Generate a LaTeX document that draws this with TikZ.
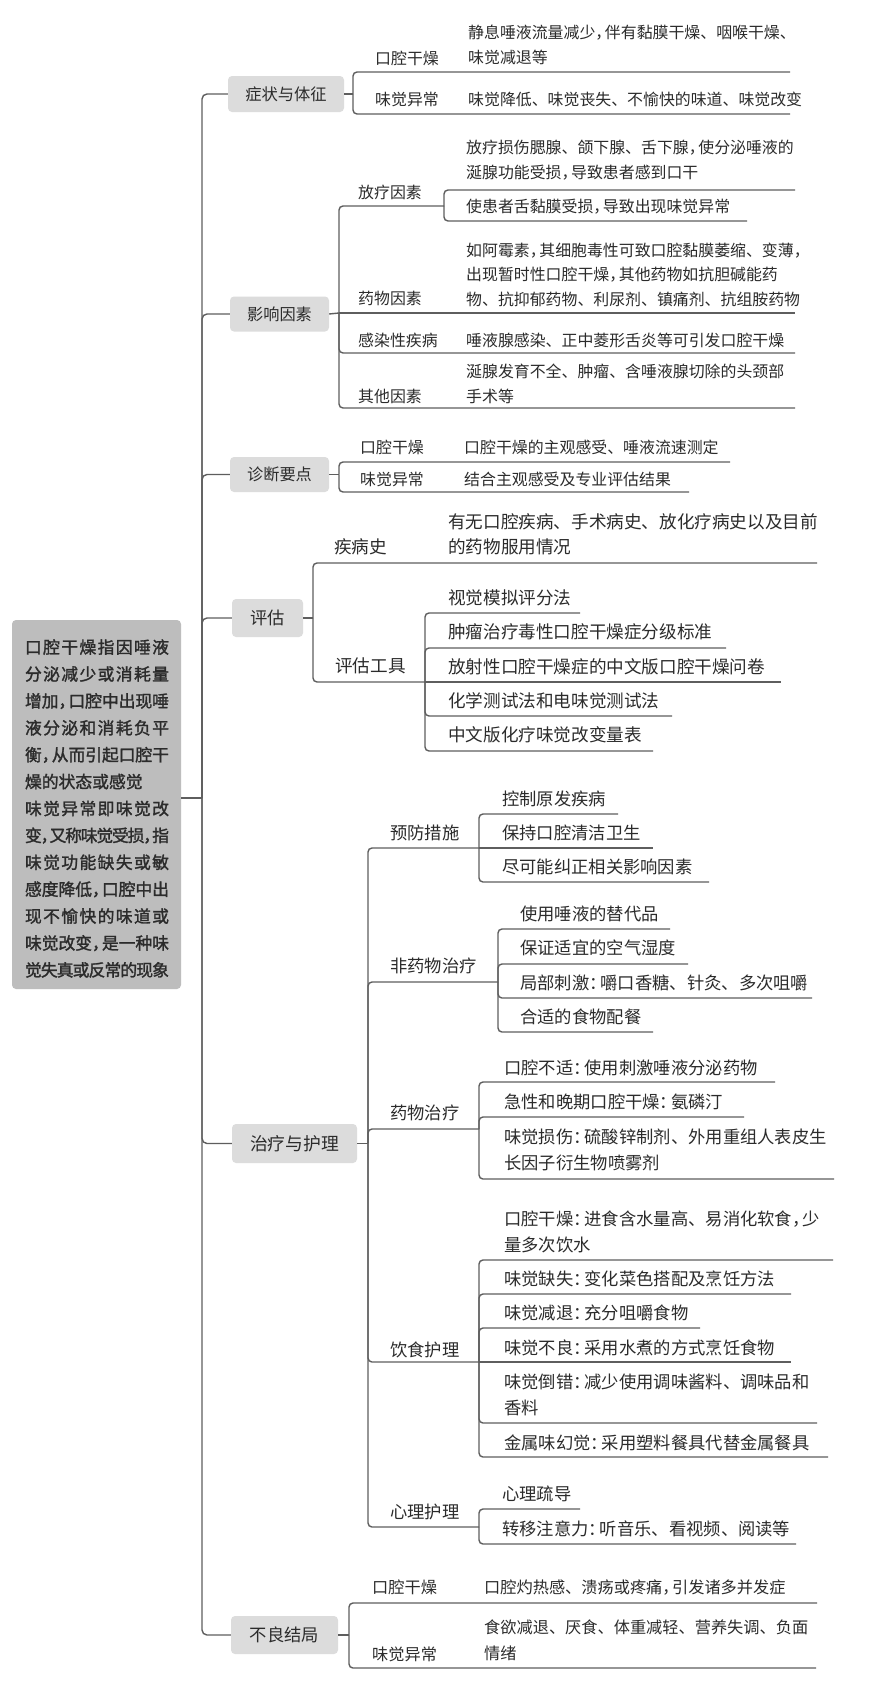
\documentclass[tikz,border=0pt]{standalone}
\usepackage{fontspec}
\setmainfont{Noto Sans CJK SC}
\newfontfamily\rootfont[FakeBold=1.6]{Noto Sans CJK SC}
\definecolor{txt}{HTML}{2B2B2B}
\definecolor{lnc}{HTML}{5E5E5E}
\definecolor{topfill}{HTML}{DCDCDC}
\definecolor{rootfill}{HTML}{BDBDBD}
\newcommand{\cm}{，\kern-0.4em}
\newcommand{\cn}{：\kern-0.35em}
\makeatletter
\def\jl#1{\hbox to 144pt{\jl@a#1\relax}}
\def\jl@a#1{#1\jl@b}
\def\jl@b#1{\ifx#1\relax\else\hskip 0pt plus 1fil minus 2.5pt #1\expandafter\jl@b\fi}
\makeatother
\tikzset{
  ln/.style={draw=lnc, line width=1.4pt},
  br/.style={ln, rounded corners=4pt},
  trk/.style={ln, rounded corners=5pt},
  topbox/.style={fill=topfill, rounded corners=4pt, inner sep=0pt, text=txt, align=center},
  fa/.style={anchor=west, inner sep=0pt, text=txt, align=left, font=\fontsize{15.9}{25}\selectfont},
  fb/.style={anchor=west, inner sep=0pt, text=txt, align=left, font=\fontsize{17.6}{25.5}\selectfont},
  fc/.style={anchor=west, inner sep=0pt, text=txt, align=left, font=\fontsize{17.3}{26}\selectfont},
}
\begin{document}
\begin{tikzpicture}[x=1pt, y=-1pt]
\fill[white] (0,0) rectangle (876,1697);
\useasboundingbox (0,0) rectangle (876,1697);

% root
\node[fill=rootfill, rounded corners=4pt, minimum width=169pt, minimum height=369pt, inner sep=0pt] (root) at (96.5,804.5) {};
\node[inner sep=0pt, text=txt, align=left, font=\rootfont\fontsize{16.8}{26.9}\selectfont] (roottext) at (97,808.5)
{\jl{口腔干燥指因唾液}\\
\jl{分泌减少或消耗量}\\
\jl{增加\cm 口腔中出现唾}\\
\jl{液分泌和消耗负平}\\
\jl{衡\cm 从而引起口腔干}\\
燥的状态或感觉\\
\jl{味觉异常即味觉改}\\
\jl{变\cm 又称味觉受损\cm 指}\\
\jl{味觉功能缺失或敏}\\
\jl{感度降低\cm 口腔中出}\\
\jl{现不愉快的味道或}\\
\jl{味觉改变\cm 是一种味}\\
\jl{觉失真或反常的现象}};

% main topics
\node[topbox, minimum width=116pt, minimum height=36pt, font=\fontsize{16.3}{20}\selectfont] (t1) at (286,94) {症状与体征};
\node[topbox, minimum width=99pt, minimum height=35pt, font=\fontsize{16.2}{20}\selectfont] (t2) at (279.5,314) {影响因素};
\node[topbox, minimum width=99pt, minimum height=35pt, font=\fontsize{16.2}{20}\selectfont] (t3) at (279.5,474.5) {诊断要点};
\node[topbox, minimum width=71pt, minimum height=38pt, font=\fontsize{17.3}{20}\selectfont] (t4) at (267.5,618) {评估};
\node[topbox, minimum width=125pt, minimum height=39pt, font=\fontsize{17.8}{20}\selectfont] (t5) at (294.5,1143.5) {治疗与护理};
\node[topbox, minimum width=107pt, minimum height=38pt, font=\fontsize{17.3}{20}\selectfont] (t6) at (284.5,1635) {不良结局};

% trunk
\coordinate (J) at (202,798);
\draw[ln] (root.east |- J) -- (J);
\foreach \t in {t1,t2,t3,t4,t5,t6} { \draw[trk] (J) |- (\t.west); }

% ---------- section 1
\coordinate (b1) at (353,94);
\draw[ln] (t1.east) -- (b1);
\node[fa] (s1l1) at (375,58) {口腔干燥};
\node[fa] (s1d1) at (468,45) {静息唾液流量减少\cm 伴有黏膜干燥、咽喉干燥、\\味觉减退等};
\coordinate (s1e1) at (790,72);
\draw[br] (b1) |- (s1e1);
\node[fa] (s1l2) at (375,99) {味觉异常};
\node[fa] (s1d2) at (468,99) {味觉降低、味觉丧失、不愉快的味道、味觉改变};
\coordinate (s1e2) at (790,114);
\draw[br] (b1) |- (s1e2);

% ---------- section 2
\coordinate (b2) at (339,313);
\draw[ln] (t2.east) -- (b2);
\node[fa] (f1l) at (358,192) {放疗因素};
\coordinate (f1) at (444,206);
\draw[br] (b2) |- (f1);
\node[fa] (f1d) at (466,160.5) {放疗损伤腮腺、颌下腺、舌下腺\cm 使分泌唾液的\\涎腺功能受损\cm 导致患者感到口干};
\coordinate (f1a) at (795,190);
\draw[br] (f1) |- (f1a);
\node[fa] (f1d2) at (466,207) {使患者舌黏膜受损\cm 导致出现味觉异常};
\coordinate (f1b) at (747,221);
\draw[br] (f1) |- (f1b);
\node[fa] (f2l) at (358,298) {药物因素};
\node[fa, font=\fontsize{15.9}{24.5}\selectfont] (f2d) at (466,274.5) {如阿霉素\cm 其细胞毒性可致口腔黏膜萎缩、变薄\cm\\出现暂时性口腔干燥\cm 其他药物如抗胆碱能药\\物、抗抑郁药物、利尿剂、镇痛剂、抗组胺药物};
\coordinate (f2) at (795,313);
\draw[ln] (b2) -- (f2);
\node[fa] (f3l) at (358,340) {感染性疾病};
\node[fa] (f3d) at (466,340) {唾液腺感染、正中菱形舌炎等可引发口腔干燥};
\coordinate (f3) at (795,353);
\draw[br] (b2) |- (f3);
\node[fa] (f4l) at (358,396) {其他因素};
\node[fa] (f4d) at (466,384) {涎腺发育不全、肿瘤、含唾液腺切除的头颈部\\手术等};
\coordinate (f4) at (795,408);
\draw[br] (b2) |- (f4);

% ---------- section 3
\coordinate (b3) at (339,474.5);
\draw[ln] (t3.east) -- (b3);
\node[fa] (g1l) at (360,447) {口腔干燥};
\node[fa] (g1d) at (464,447) {口腔干燥的主观感受、唾液流速测定};
\coordinate (g1) at (730,462);
\draw[br] (b3) |- (g1);
\node[fa] (g2l) at (360,479) {味觉异常};
\node[fa] (g2d) at (464,479) {结合主观感受及专业评估结果};
\coordinate (g2) at (689,492);
\draw[br] (b3) |- (g2);

% ---------- section 4
\coordinate (b4) at (313,618);
\draw[ln] (t4.east) -- (b4);
\node[fb] (h1l) at (334,547) {疾病史};
\node[fb] (h1d) at (448,534.5) {有无口腔疾病、手术病史、放化疗病史以及目前\\的药物服用情况};
\coordinate (h1) at (817,563);
\draw[br] (b4) |- (h1);
\node[fb] (h2l) at (335,666) {评估工具};
\coordinate (h2) at (425,682);
\draw[br] (b4) |- (h2);
\node[fb] (h21) at (448,598) {视觉模拟评分法};
\coordinate (h21e) at (580,613);
\draw[br] (h2) |- (h21e);
\node[fb] (h22) at (448,632) {肿瘤治疗毒性口腔干燥症分级标准};
\coordinate (h22e) at (726,648);
\draw[br] (h2) |- (h22e);
\node[fb] (h23) at (448,667) {放射性口腔干燥症的中文版口腔干燥问卷};
\coordinate (h23e) at (781,682);
\draw[ln] (h2) -- (h23e);
\node[fb] (h24) at (448,701) {化学测试法和电味觉测试法};
\coordinate (h24e) at (672,716);
\draw[br] (h2) |- (h24e);
\node[fb] (h25) at (448,735) {中文版化疗味觉改变量表};
\coordinate (h25e) at (653,751);
\draw[br] (h2) |- (h25e);

% ---------- section 5
\coordinate (b5) at (368,1143.5);
\draw[ln] (t5.east) -- (b5);
% 预防措施
\node[fc] (p0) at (390,833) {预防措施};
\coordinate (pj) at (479,848);
\draw[br] (b5) |- (pj);
\node[fc] (p1) at (502,799) {控制原发疾病};
\coordinate (p1e) at (618,814);
\draw[br] (pj) |- (p1e);
\node[fc] (p2) at (502,833) {保持口腔清洁卫生};
\coordinate (p2e) at (653,848);
\draw[ln] (pj) -- (p2e);
\node[fc] (p3) at (502,867) {尽可能纠正相关影响因素};
\coordinate (p3e) at (709,882);
\draw[br] (pj) |- (p3e);
% 非药物治疗
\node[fc] (q0) at (390,966) {非药物治疗};
\coordinate (qj) at (498,982);
\draw[br] (b5) |- (qj);
\node[fc] (q1) at (520,914) {使用唾液的替代品};
\coordinate (q1e) at (670,929);
\draw[br] (qj) |- (q1e);
\node[fc] (q2) at (520,948) {保证适宜的空气湿度};
\coordinate (q2e) at (688,964);
\draw[br] (qj) |- (q2e);
\node[fc] (q3) at (520,983) {局部刺激\cn 嚼口香糖、针灸、多次咀嚼};
\coordinate (q3e) at (812,998);
\draw[br] (qj) |- (q3e);
\node[fc] (q4) at (520,1017) {合适的食物配餐};
\coordinate (q4e) at (653,1032);
\draw[br] (qj) |- (q4e);
% 药物治疗
\node[fc] (m0) at (390,1113) {药物治疗};
\coordinate (mj) at (479,1129);
\draw[br] (b5) |- (mj);
\node[fc] (m1) at (504,1068) {口腔不适\cn 使用刺激唾液分泌药物};
\coordinate (m1e) at (775,1082);
\draw[br] (mj) |- (m1e);
\node[fc] (m2) at (504,1102) {急性和晚期口腔干燥\cn 氨磷汀};
\coordinate (m2e) at (744,1117);
\draw[br] (mj) |- (m2e);
\node[fc] (m3) at (504,1150) {味觉损伤\cn 硫酸锌制剂、外用重组人表皮生\\长因子衍生物喷雾剂};
\coordinate (m3e) at (834,1179);
\draw[br] (mj) |- (m3e);
% 饮食护理
\node[fc] (d0) at (390,1350) {饮食护理};
\coordinate (dj) at (479,1362);
\draw[br] (b5) |- (dj);
\node[fc] (d1) at (504,1232) {口腔干燥\cn 进食含水量高、易消化软食\cm 少\\量多次饮水};
\coordinate (d1e) at (833,1260);
\draw[br] (dj) |- (d1e);
\node[fc] (d2) at (504,1279) {味觉缺失\cn 变化菜色搭配及烹饪方法};
\coordinate (d2e) at (791,1294);
\draw[br] (dj) |- (d2e);
\node[fc] (d3) at (504,1313) {味觉减退\cn 充分咀嚼食物};
\coordinate (d3e) at (700,1328);
\draw[br] (dj) |- (d3e);
\node[fc] (d4) at (504,1348) {味觉不良\cn 采用水煮的方式烹饪食物};
\coordinate (d4e) at (791,1362);
\draw[ln] (dj) -- (d4e);
\node[fc] (d5) at (504,1394.5) {味觉倒错\cn 减少使用调味酱料、调味品和\\香料};
\coordinate (d5e) at (817,1423);
\draw[br] (dj) |- (d5e);
\node[fc] (d6) at (504,1443) {金属味幻觉\cn 采用塑料餐具代替金属餐具};
\coordinate (d6e) at (828,1457);
\draw[br] (dj) |- (d6e);
% 心理护理
\node[fc] (x0) at (390,1512) {心理护理};
\coordinate (xj) at (479,1527);
\draw[br] (b5) |- (xj);
\node[fc] (x1) at (502,1494) {心理疏导};
\coordinate (x1e) at (580,1509);
\draw[br] (xj) |- (x1e);
\node[fc] (x2) at (502,1529) {转移注意力\cn 听音乐、看视频、阅读等};
\coordinate (x2e) at (796,1544);
\draw[br] (xj) |- (x2e);

% ---------- section 6
\coordinate (b6) at (349,1635);
\draw[ln] (t6.east) -- (b6);
\node[fa, font=\fontsize{16.2}{26}\selectfont] (k1l) at (372,1587) {口腔干燥};
\node[fa, font=\fontsize{16.2}{26}\selectfont] (k1d) at (484,1587) {口腔灼热感、溃疡或疼痛\cm 引发诸多并发症};
\coordinate (k1) at (817,1603);
\draw[br] (b6) |- (k1);
\node[fa, font=\fontsize{16.2}{26}\selectfont] (k2l) at (372,1654) {味觉异常};
\node[fa, font=\fontsize{16.2}{26}\selectfont] (k2d) at (484,1640) {食欲减退、厌食、体重减轻、营养失调、负面\\情绪};
\coordinate (k2) at (816,1668);
\draw[br] (b6) |- (k2);
\end{tikzpicture}
\end{document}
